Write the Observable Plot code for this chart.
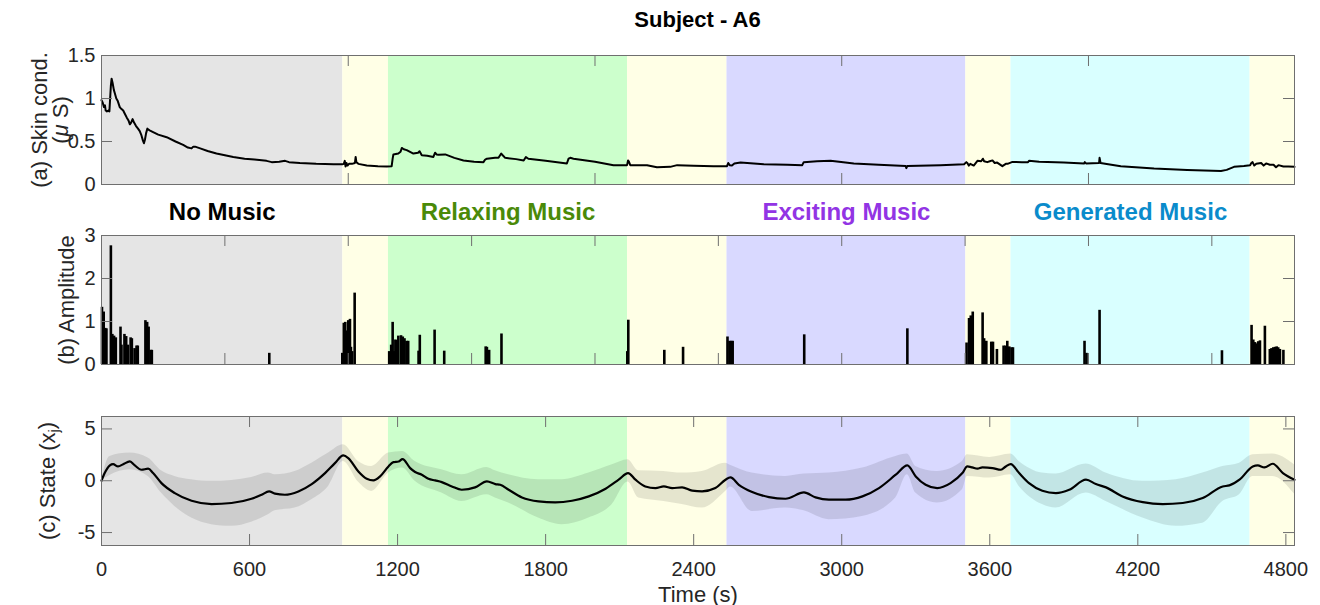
<!DOCTYPE html>
<html>
<head>
<meta charset="utf-8">
<script src="https://cdn.jsdelivr.net/npm/d3@7"></script>
<script src="https://cdn.jsdelivr.net/npm/@observablehq/plot@0.6"></script>
<style>
  body { margin: 0; background: #fff; }
  #fig { position: relative; width: 1320px; height: 605px; font-family: "Liberation Sans", Arial, sans-serif; color: #262626; }
  #fig > svg { position: absolute; left: 0; }
  #title { position: absolute; left: 101px; width: 1193px; top: 7px; text-align: center; font-weight: bold; font-size: 22px; color: #000; }
</style>
</head>
<body>
<div id="fig"><div id="title">Subject - A6</div></div>
<script>
// ---- experiment timeline (s) ----
const segmentBounds = [0, 978, 1163, 2132, 2535, 3503, 3686, 4655, 4835];
const segmentCondition = ["No Music", "Pause", "Relaxing Music", "Pause", "Exciting Music", "Pause", "Generated Music", "Pause"];
const musicLabels = ["No Music", "Relaxing Music", "Exciting Music", "Generated Music"];

// ---- (a) skin conductance (µS) ----
const scTime = [0,5,10,14,17,22,28,32,35,38,41,45,50,54,60,66,74,80,88,95,102,110,115,120,126,132,140,148,155,162,168,172,176,181,186,189,195,209,230,264,300,331,350,365,372,379,400,430,466,500,534,580,620,669,690,720,744,760,804,870,940,976,982,986,989,993,997,1003,1015,1027,1030,1033,1041,1075,1120,1156,1176,1180,1183,1203,1212,1217,1225,1237,1264,1283,1289,1298,1320,1345,1352,1358,1366,1393,1430,1467,1510,1548,1555,1562,1595,1609,1620,1626,1636,1680,1711,1720,1730,1800,1886,1893,1900,1913,2000,2075,2130,2134,2137,2143,2211,2251,2305,2333,2400,2480,2535,2540,2546,2555,2565,2590,2684,2780,2840,2846,2900,2955,3049,3150,3259,3262,3266,3400,3496,3505,3509,3515,3521,3535,3550,3565,3572,3577,3590,3600,3611,3620,3630,3651,3665,3672,3692,3730,3755,3759,3800,3900,3982,3985,3990,4043,4045,4049,4080,4131,4266,4400,4537,4560,4590,4630,4655,4660,4665,4672,4680,4700,4710,4720,4735,4750,4760,4770,4790,4810,4835];
const scValue = [0.98,0.95,0.90,0.92,0.86,0.85,0.86,0.85,1.00,1.15,1.23,1.18,1.10,1.06,1.00,0.97,0.90,0.88,0.86,0.82,0.78,0.74,0.70,0.72,0.76,0.72,0.68,0.65,0.62,0.57,0.51,0.48,0.52,0.60,0.65,0.64,0.63,0.61,0.58,0.55,0.50,0.46,0.43,0.42,0.44,0.44,0.42,0.39,0.36,0.34,0.32,0.30,0.29,0.275,0.26,0.265,0.275,0.26,0.25,0.24,0.236,0.235,0.24,0.275,0.21,0.25,0.22,0.24,0.24,0.25,0.32,0.26,0.24,0.22,0.213,0.21,0.213,0.30,0.35,0.36,0.38,0.425,0.41,0.40,0.36,0.37,0.387,0.34,0.335,0.32,0.37,0.35,0.345,0.35,0.31,0.28,0.265,0.26,0.29,0.30,0.31,0.31,0.36,0.34,0.31,0.295,0.28,0.32,0.30,0.275,0.244,0.30,0.31,0.30,0.265,0.225,0.225,0.28,0.27,0.225,0.225,0.20,0.205,0.225,0.218,0.213,0.213,0.25,0.225,0.22,0.245,0.256,0.236,0.23,0.225,0.26,0.27,0.275,0.244,0.23,0.216,0.19,0.216,0.225,0.236,0.26,0.25,0.22,0.24,0.22,0.275,0.27,0.30,0.27,0.26,0.27,0.28,0.25,0.255,0.213,0.24,0.24,0.263,0.26,0.26,0.275,0.265,0.255,0.244,0.26,0.245,0.25,0.31,0.25,0.235,0.213,0.186,0.17,0.158,0.17,0.205,0.215,0.225,0.25,0.26,0.22,0.24,0.25,0.22,0.245,0.23,0.23,0.20,0.225,0.21,0.21,0.205];

// ---- (b) SCR amplitudes ----
const scrTime = [2,9,15,20,38,44,51,58,77,81,93,100,107,118,123,134,142,147,178,185,191,199,204,680,976,982,988,995,1000,1007,1011,1016,1026,1166,1174,1180,1186,1191,1196,1203,1214,1221,1228,1236,1243,1285,1290,1350,1389,1557,1562,1571,1621,2131,2135,2281,2357,2537,2545,2552,2558,2848,3266,3506,3516,3523,3531,3571,3577,3586,3606,3613,3629,3656,3664,3671,3679,3688,3694,3984,3992,4045,4541,4661,4668,4675,4681,4688,4695,4715,4735,4742,4749,4756,4763,4769,4776,4790];
const scrAmplitude = [1.33,1.22,0.84,0.83,2.76,0.70,0.66,0.62,0.87,0.45,0.70,0.65,0.45,0.62,0.60,0.37,0.43,0.43,1.02,0.98,0.87,0.33,0.33,0.26,0.26,0.96,0.98,0.78,1.02,1.05,0.40,0.30,1.66,0.30,0.45,0.98,0.30,0.57,0.56,0.66,0.67,0.64,0.60,0.54,0.54,0.31,0.68,0.80,0.31,0.41,0.40,0.33,0.71,0.30,1.03,0.33,0.40,0.64,0.54,0.54,0.54,0.69,0.83,0.50,1.07,1.13,1.22,1.20,0.60,0.54,0.52,0.52,0.35,0.43,0.43,0.54,0.41,0.39,0.39,0.54,0.26,1.26,0.32,0.91,0.57,0.51,0.48,0.53,0.55,0.89,0.35,0.37,0.39,0.40,0.41,0.39,0.35,0.33];

// ---- (c) estimated state x_j with confidence band ----
const stateTime = [0,13,34,47,67,88,115,135,162,189,209,243,297,365,446,527,608,649,679,703,743,798,852,906,946,980,1000,1041,1075,1102,1129,1163,1183,1204,1220,1251,1271,1298,1325,1352,1379,1420,1460,1514,1562,1596,1616,1650,1704,1771,1839,1907,1975,2043,2096,2134,2164,2204,2245,2279,2313,2353,2394,2434,2488,2529,2549,2583,2637,2705,2772,2847,2894,2948,3016,3084,3151,3219,3266,3300,3340,3387,3441,3489,3509,3529,3550,3570,3611,3645,3665,3685,3719,3759,3813,3868,3922,3990,4030,4071,4138,4220,4301,4382,4463,4544,4571,4612,4666,4686,4713,4747,4788,4835];
const stateMean = [0,0.74,1.48,1.6,1.38,1.6,1.86,1.48,1.06,1.16,0.74,-0.23,-1.19,-1.93,-2.25,-2.15,-1.74,-1.35,-1.03,-1.25,-1.35,-1.03,-0.32,0.74,1.70,2.44,2.19,0.9,0.19,0.03,0.42,1.38,1.8,1.86,2.09,1.22,0.84,0.58,0.19,0.03,-0.13,-0.55,-0.87,-0.64,-0.06,-0.32,-0.39,-0.87,-1.61,-1.99,-2.09,-1.93,-1.51,-0.77,0.1,0.74,0.1,-0.55,-0.71,-0.55,-0.71,-0.64,-0.96,-1.03,-0.71,0.1,0.32,-0.39,-1.09,-1.58,-1.74,-1.13,-1.61,-1.83,-1.83,-1.51,-0.71,0.58,1.48,0.42,-0.39,-0.71,-0.23,0.74,1.38,1.29,1.16,1.29,1.22,1.06,1.38,1.61,0.74,-0.23,-0.96,-1.19,-0.87,0.1,-0.32,-0.64,-1.51,-2.06,-2.25,-2.15,-1.67,-0.55,-0.45,0.1,1.38,1.48,1.29,1.64,0.74,0.1];
const bandTime = [0,34,115,189,243,297,365,446,527,608,676,703,784,852,920,980,1041,1095,1163,1220,1271,1379,1460,1562,1596,1650,1771,1866,1975,2070,2134,2177,2279,2353,2434,2529,2549,2637,2772,2847,2948,3084,3219,3266,3300,3387,3489,3509,3600,3685,3719,3813,3868,3990,4071,4220,4355,4463,4544,4612,4666,4747,4835];
const bandLower = [0,0.51,1.06,0.42,-1.19,-2.48,-3.6,-4.24,-4.4,-4.0,-3.28,-2.9,-2.64,-1.83,-0.55,1.86,-0.13,-1.03,0.74,1.22,-0.06,-1.19,-2.0,-1.35,-1.67,-2.15,-3.6,-4.24,-3.6,-2.3,-0.13,-1.67,-2.0,-2.3,-2.64,-1.03,-0.6,-2.96,-2.64,-2.9,-3.76,-3.44,-1.67,0.58,-1.19,-2.15,-0.87,0.42,0.26,0.58,-0.55,-2.3,-2.64,-1.19,-2.0,-3.6,-4.4,-4.1,-2.0,-1.35,0.42,0.42,-1.29];
const bandUpper = [0,2.35,2.67,2.19,0.96,0.42,0.1,-0.06,0.03,0.32,0.74,0.58,0.9,1.7,2.67,3.47,1.86,1.38,2.67,2.83,1.86,1.06,0.58,1.29,0.96,0.58,0.1,0.1,0.74,1.54,2.03,0.96,0.9,0.74,0.9,1.7,1.5,0.74,0.42,0.64,0.74,1.22,2.35,2.57,1.38,0.9,1.86,2.5,2.25,2.57,1.86,0.74,0.64,1.61,0.74,-0.06,0.1,0.74,1.38,1.7,2.5,2.57,1.54];

// ---- axis ticks ----
const xTicksA = [0, 1000, 2000, 3000, 4000];
const xTicksB = [0, 500, 1000, 1500, 2000, 2500, 3000, 3500, 4000, 4500];
const xTicksC = [0, 600, 1200, 1800, 2400, 3000, 3600, 4200, 4800];
const yTicksA = [0, 0.5, 1, 1.5];
const yTicksB = [0, 1, 2, 3];
const yTicksC = [-5, 0, 5];

// ---- styling ----
const conditionFill = {
  "No Music": "#e5e5e5",
  "Pause": "#ffffe6",
  "Relaxing Music": "#ccffcc",
  "Exciting Music": "#d9d9ff",
  "Generated Music": "#d9ffff"
};
const labelColor = {
  "No Music": "#000000",
  "Relaxing Music": "#4a8a08",
  "Exciting Music": "#9234e4",
  "Generated Music": "#0a8bcb"
};
const W = 1320, ML = 101, MR = 26, FRAME_H = 129, TICK = 11;
const FRAME_W = W - ML - MR;
const axisGray = "#6f6f6f";
const font = "Liberation Sans, Arial, sans-serif";

const segments = segmentCondition.map((c, i) => ({start: segmentBounds[i], end: segmentBounds[i + 1], condition: c}));
const labelRows = musicLabels.map(name => {
  const s = segments.find(d => d.condition === name);
  return {name, center: (s.start + s.end) / 2};
});
const scData = scTime.map((t, i) => ({t, v: scValue[i]}));
const scrData = scrTime.map((t, i) => ({t, a: scrAmplitude[i]}));
const stateData = stateTime.map((t, i) => ({t, x: stateMean[i]}));
const bandData = bandTime.map((t, i) => ({t, lo: bandLower[i], hi: bandUpper[i]}));

const fmt = d => String(d);

// shared decorations: shaded conditions, inward ticks on all four sides, box
function decorations(xTicks, yTicks) {
  return {
    back: Plot.rect(segments, {x1: "start", x2: "end", fill: d => conditionFill[d.condition]}),
    ticks: [
      Plot.tickX(xTicks, {x: d => d, insetBottom: FRAME_H - TICK, stroke: axisGray}),
      Plot.tickX(xTicks, {x: d => d, insetTop: FRAME_H - TICK, stroke: axisGray}),
      Plot.tickY(yTicks, {y: d => d, insetRight: FRAME_W - TICK, stroke: axisGray}),
      Plot.tickY(yTicks, {y: d => d, insetLeft: FRAME_W - TICK, stroke: axisGray}),
      Plot.axisY(yTicks, {tickSize: 0, tickPadding: 6, fontSize: 20, tickFormat: fmt, label: null}),
      Plot.frame({stroke: axisGray})
    ]
  };
}

// rotated y-axis title, centred on the frame
function yTitle(text, dx, extra = {}) {
  return Plot.text([text], {frameAnchor: "left", textAnchor: "middle", lineAnchor: "middle", dx, rotate: -90, fontSize: 22, fill: "#262626", ...extra});
}

function place(svg, top) {
  svg.style.top = top + "px";
  document.getElementById("fig").appendChild(svg);
  return svg;
}

const baseStyle = {fontFamily: font, fontSize: "20px", color: "#262626", background: "transparent", overflow: "visible"};

// (a) skin conductance
{
  const dec = decorations(xTicksA, yTicksA);
  const svg = Plot.plot({
    width: W, height: 150, marginLeft: ML, marginRight: MR, marginTop: 10, marginBottom: 11,
    style: baseStyle,
    x: {domain: [0, 4835], axis: null},
    y: {domain: [0, 1.5]},
    color: {type: "identity"},
    marks: [
      dec.back,
      Plot.line(scData, {x: "t", y: "v", stroke: "black", strokeWidth: 2}),
      ...dec.ticks,
      yTitle("(a) Skin cond.\n(μ S)", -51, {lineHeight: 0.95})
    ]
  });
  // Greek mu in italics
  d3.select(svg).selectAll("tspan").filter(function () { return this.textContent === "(μ S)"; })
    .each(function () {
      const t = d3.select(this);
      t.text(null);
      t.append("tspan").text("(");
      t.append("tspan").attr("font-style", "italic").text("μ");
      t.append("tspan").text(" S)");
    });
  place(svg, 45);
}

// (b) response amplitudes
{
  const dec = decorations(xTicksB, yTicksB);
  const svg = Plot.plot({
    width: W, height: 180, marginLeft: ML, marginRight: MR, marginTop: 40, marginBottom: 11,
    style: baseStyle,
    x: {domain: [0, 4835], axis: null},
    y: {domain: [0, 3]},
    color: {type: "identity"},
    marks: [
      dec.back,
      Plot.ruleX(scrData, {x: "t", y1: 0, y2: "a", stroke: "black", strokeWidth: 2.6}),
      ...dec.ticks,
      Plot.text(labelRows, {x: "center", text: "name", frameAnchor: "top", lineAnchor: "middle", dy: -23, fontSize: 24, fontWeight: "bold", fill: d => labelColor[d.name]}),
      yTitle("(b) Amplitude", -35)
    ]
  });
  place(svg, 195);
}

// (c) state estimate
{
  const dec = decorations(xTicksC, yTicksC);
  const svg = Plot.plot({
    width: W, height: 230, marginLeft: ML, marginRight: MR, marginTop: 41, marginBottom: 60,
    style: baseStyle,
    x: {domain: [0, 4835]},
    y: {domain: [-6.25, 6.2]},
    color: {type: "identity"},
    marks: [
      dec.back,
      Plot.areaY(bandData, {x: "t", y1: "lo", y2: "hi", fill: "black", fillOpacity: 0.1, curve: "monotone-x"}),
      Plot.line(stateData, {x: "t", y: "x", stroke: "black", strokeWidth: 2.2, curve: "monotone-x"}),
      ...dec.ticks,
      Plot.axisX(xTicksC, {tickSize: 0, tickPadding: 16, fontSize: 20, tickFormat: fmt, label: null}),
      Plot.text(["Time (s)"], {frameAnchor: "bottom", lineAnchor: "middle", dy: 49, fontSize: 22, fill: "#262626"}),
      yTitle("(c) State (xj)", -54)
    ]
  });
  // set the state index as a subscript
  d3.select(svg).selectAll("text").filter(function () { return this.textContent === "(c) State (xj)"; })
    .each(function () {
      const t = d3.select(this);
      t.text(null);
      t.append("tspan").text("(c) State (x");
      t.append("tspan").attr("font-size", 14).attr("dy", "0.35em").text("j");
      t.append("tspan").attr("dy", "-0.25em").text(")");
    });
  place(svg, 375);
}
</script>
</body>
</html>
